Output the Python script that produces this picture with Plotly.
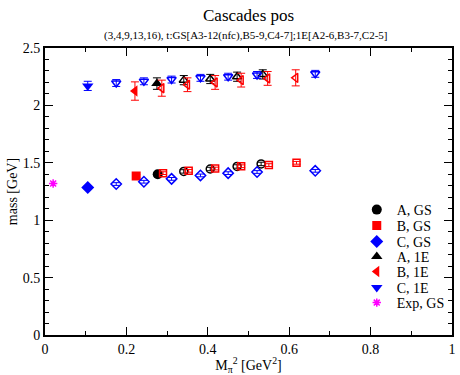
import plotly.graph_objects as go

# ---- data ----
a_gs_x = [0.277, 0.341, 0.406, 0.472, 0.531]
a_gs_y = [1.40, 1.425, 1.446, 1.468, 1.49]
a_gs_e = [0.015, 0.015, 0.015, 0.015, 0.015]

b_gs_x = [0.224, 0.290, 0.353, 0.418, 0.482, 0.550, 0.618]
b_gs_y = [1.385, 1.41, 1.43, 1.45, 1.47, 1.48, 1.50]
b_gs_e = [0.012, 0.012, 0.012, 0.012, 0.012, 0.012, 0.012]

c_gs_x = [0.105, 0.175, 0.243, 0.311, 0.382, 0.450, 0.521, 0.664]
c_gs_y = [1.285, 1.315, 1.335, 1.36, 1.39, 1.41, 1.42, 1.43]
c_gs_e = [0.012, 0.012, 0.012, 0.012, 0.012, 0.012, 0.012, 0.012]

a_1e_x = [0.275, 0.341, 0.406, 0.472, 0.535]
a_1e_y = [2.19, 2.22, 2.23, 2.25, 2.27]
a_1e_e = [0.05, 0.04, 0.04, 0.04, 0.04]

b_1e_x = [0.221, 0.287, 0.350, 0.418, 0.482, 0.547, 0.616]
b_1e_y = [2.125, 2.15, 2.18, 2.20, 2.22, 2.235, 2.24]
b_1e_e = [0.08, 0.07, 0.06, 0.06, 0.06, 0.06, 0.07]

c_1e_x = [0.105, 0.175, 0.243, 0.311, 0.382, 0.450, 0.521, 0.664]
c_1e_y = [2.17, 2.195, 2.21, 2.225, 2.24, 2.25, 2.265, 2.275]
c_1e_e = [0.04, 0.03, 0.03, 0.03, 0.03, 0.03, 0.03, 0.03]

exp_x = [0.02]
exp_y = [1.32]

x_ticks = [0, 0.2, 0.4, 0.6, 0.8, 1]
x_labels = ["0", "0.2", "0.4", "0.6", "0.8", "1"]
y_ticks = [0, 0.5, 1, 1.5, 2, 2.5]
y_labels = ["0", "0.5", "1", "1.5", "2", "2.5"]

series = [
    ("A, GS", a_gs_x, a_gs_y, a_gs_e, "black", "circle", 10),
    ("B, GS", b_gs_x, b_gs_y, b_gs_e, "red", "square", 9),
    ("C, GS", c_gs_x, c_gs_y, c_gs_e, "blue", "diamond", 10),
    ("A, 1E", a_1e_x, a_1e_y, a_1e_e, "black", "triangle-up", 10),
    ("B, 1E", b_1e_x, b_1e_y, b_1e_e, "red", "triangle-left", 10),
    ("C, 1E", c_1e_x, c_1e_y, c_1e_e, "blue", "triangle-down", 10),
]

font = "Liberation Serif, Times New Roman, serif"

# plot area in pixels: top 48, bottom 335 (height 287)
legend_rows_px = [210, 226, 242, 257, 272, 288, 303]
legend_names = ["legend", "legend2", "legend3", "legend4", "legend5", "legend6", "legend7"]

fig = go.Figure()
for i, (name, xs, ys, es, col, sym, sz) in enumerate(series):
    fig.add_trace(go.Scatter(
        x=xs[:1], y=ys[:1], mode="markers", name=name, legendgroup=name,
        legend=legend_names[i],
        marker=dict(symbol=sym, color=col, size=sz),
        error_y=dict(type="data", array=es[:1], color=col, thickness=1, width=4),
    ))
    fig.add_trace(go.Scatter(
        x=xs[1:], y=ys[1:], mode="markers", name=name, legendgroup=name, showlegend=False,
        legend=legend_names[i],
        marker=dict(symbol=sym + "-open", color=col, size=sz - 2, line=dict(width=1.5, color=col)),
        error_y=dict(type="data", array=es[1:], color=col, thickness=1, width=4),
    ))

fig.add_trace(go.Scatter(
    x=exp_x, y=exp_y, mode="markers", name="Exp, GS", legend=legend_names[6],
    marker=dict(symbol="asterisk-open", color="magenta", size=7, line=dict(width=1.5, color="magenta")),
))

layout_legends = {}
for i, ln in enumerate(legend_names):
    layout_legends[ln] = dict(
        x=0.766, y=(335 - legend_rows_px[i]) / 287.0, xanchor="left", yanchor="middle",
        bgcolor="rgba(0,0,0,0)", font=dict(size=14, family=font, color="black"),
        itemsizing="trace", itemwidth=30, borderwidth=0,
    )

fig.update_layout(
    width=460, height=375,
    margin=dict(l=45, r=4, t=48, b=40),
    paper_bgcolor="white", plot_bgcolor="white",
    font=dict(family=font, size=13, color="black"),
    showlegend=True,
    annotations=[
        dict(text="Cascades pos", x=0.5, y=(335 - 15) / 287.0, xref="paper", yref="paper",
             xanchor="center", yanchor="middle", showarrow=False, font=dict(size=17, family=font)),
        dict(text="(3,4,9,13,16), t:GS[A3-12(nfc),B5-9,C4-7];1E[A2-6,B3-7,C2-5]",
             x=0.493, y=(335 - 36) / 287.0, xref="paper", yref="paper",
             xanchor="center", yanchor="middle", showarrow=False, font=dict(size=11, family=font)),
    ],
    **layout_legends,
)
fig.update_xaxes(range=[0, 1], tickvals=x_ticks, ticktext=x_labels, ticks="inside", ticklen=8,
                 minor=dict(dtick=0.1, ticks="inside", ticklen=4, tickcolor="black"),
                 showline=True, linecolor="black", linewidth=2, mirror="allticks",
                 showgrid=False, zeroline=False, tickcolor="black", tickfont=dict(size=14),
                 title=dict(text="M<sub>π</sub><sup>2</sup> [GeV<sup>2</sup>]", standoff=0, font=dict(size=14)))
fig.update_yaxes(range=[0, 2.5], tickvals=y_ticks, ticktext=y_labels, ticks="inside", ticklen=8,
                 minor=dict(dtick=0.1, ticks="inside", ticklen=4, tickcolor="black"),
                 showline=True, linecolor="black", linewidth=2, mirror="allticks",
                 showgrid=False, zeroline=False, tickcolor="black", tickfont=dict(size=14),
                 title=dict(text="mass [GeV]", standoff=2, font=dict(size=14)))

fig.write_html("out.html")
